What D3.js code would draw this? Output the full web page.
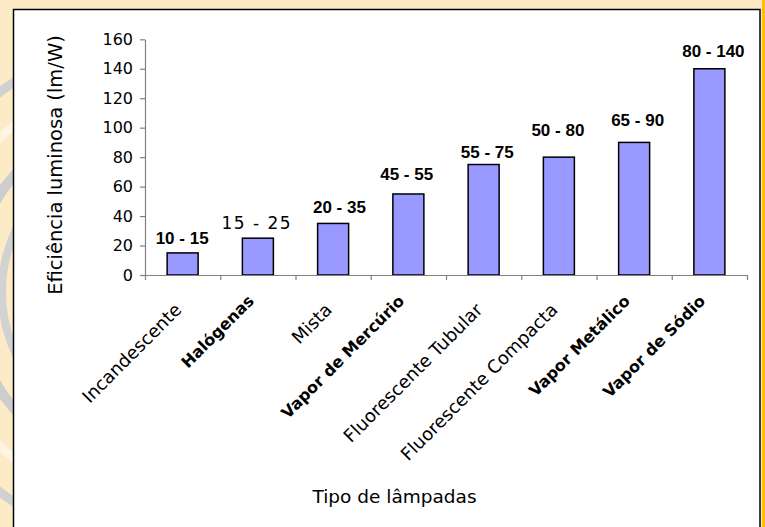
<!DOCTYPE html>
<html>
<head>
<meta charset="utf-8">
<script src="https://cdn.jsdelivr.net/npm/d3@7/dist/d3.min.js"></script>
<style>
  html, body { margin: 0; padding: 0; background: #FDEBC8; }
  svg { display: block; }
</style>
</head>
<body>
<svg id="chart" width="765" height="527"></svg>
<script>
// ---- data ----
const categories = ["Incandescente", "Halógenas", "Mista", "Vapor de Mercúrio",
  "Fluorescente Tubular", "Fluorescente Compacta", "Vapor Metálico", "Vapor de Sódio"];
const values = [15, 25, 35, 55, 75, 80, 90, 140];
const rangeLabels = ["10 - 15", "15 - 25", "20 - 35", "45 - 55", "55 - 75", "50 - 80", "65 - 90", "80 - 140"];
const boldCategory = [false, true, false, true, false, false, true, true];
const yTicks = [0, 20, 40, 60, 80, 100, 120, 140, 160];
const yTitle = "Eficiência luminosa (lm/W)";
const xTitle = "Tipo de lâmpadas";

// ---- layout ----
const W = 765, H = 527;
const plot = { left: 145, right: 747, top: 39.3, bottom: 275 };
// small hand placement of the value labels (px): [dx, lift above bar]
const labelNudge = [[-0.5, 9], [-1.8, 8.7], [6.3, 10.7], [-1.7, 14], [3.7, 6.4], [-1, 20.7], [3.5, 16.7], [4, 11.7]];

const svg = d3.select("#chart");

// background
svg.append("rect").attr("width", W).attr("height", H).attr("fill", "#FDEBC8");
const deco = svg.append("g").attr("fill", "none");
[[179, "#CDCDCD", 10], [148, "#D2D2D2", 8], [250, "#D0D0D0", 9], [215, "#FFF6E2", 8]].forEach(([r, c, w]) => {
  deco.append("circle").attr("cx", 150).attr("cy", 292).attr("r", r)
    .attr("stroke", c).attr("stroke-width", w);
});
svg.append("rect").attr("x", 762).attr("y", 0).attr("width", 3).attr("height", H).attr("fill", "#FFC000");

// chart box
svg.append("rect").attr("x", 13.5).attr("y", 9.5).attr("width", 746.5).attr("height", 540)
  .attr("fill", "#FFFFFF").attr("stroke", "#000").attr("stroke-width", 1.5);

// scales
const x = d3.scaleBand().domain(categories).range([plot.left, plot.right])
  .paddingInner(0.588).paddingOuter(0.294);
const xEdges = d3.scaleLinear().domain([0, categories.length]).range([plot.left, plot.right]);
const y = d3.scaleLinear().domain([0, 160]).range([plot.bottom, plot.top]);

// bars
svg.append("g").selectAll("rect").data(values).join("rect")
  .attr("x", (d, i) => x(categories[i]))
  .attr("y", d => y(d))
  .attr("width", x.bandwidth())
  .attr("height", d => y(0) - y(d))
  .attr("fill", "#9999FF")
  .attr("stroke", "#000")
  .attr("stroke-width", 1.5);

// y axis
const yAxis = svg.append("g").attr("transform", `translate(${plot.left},0)`)
  .call(d3.axisLeft(y).tickValues(yTicks).tickSize(5).tickSizeOuter(0).tickPadding(7));
yAxis.select(".domain").attr("stroke", "#808080").attr("stroke-width", 1.2);
yAxis.selectAll(".tick line").attr("stroke", "#808080").attr("stroke-width", 1.2);
yAxis.selectAll(".tick text").attr("font-family", "'DejaVu Sans'").attr("font-size", 16).attr("fill", "#000");

// x axis (ticks between categories)
const xAxis = svg.append("g").attr("transform", `translate(0,${plot.bottom})`)
  .call(d3.axisBottom(xEdges).tickValues(d3.range(0, categories.length + 1)).tickSize(5).tickSizeOuter(0).tickFormat(""));
xAxis.select(".domain").attr("stroke", "#808080").attr("stroke-width", 1.2);
xAxis.selectAll(".tick line").attr("stroke", "#808080").attr("stroke-width", 1.2);

// category labels
svg.append("g").selectAll("text").data(categories).join("text")
  .attr("transform", (d, i) => {
    const cx = x(d) + x.bandwidth() / 2 + (boldCategory[i] ? -3 : 0);
    const ey = boldCategory[i] ? 302 : 311;
    return `translate(${cx},${ey}) rotate(-45)`;
  })
  .attr("text-anchor", "end")
  .attr("font-family", "'DejaVu Sans'")
  .attr("font-size", (d, i) => boldCategory[i] ? 16 : 18)
  .attr("font-weight", (d, i) => boldCategory[i] ? "bold" : "normal")
  .attr("fill", "#000")
  .text(d => d);

// value labels
svg.append("g").selectAll("text").data(rangeLabels).join("text")
  .attr("x", (d, i) => x(categories[i]) + x.bandwidth() / 2 + labelNudge[i][0])
  .attr("y", (d, i) => y(values[i]) - labelNudge[i][1])
  .attr("text-anchor", "middle")
  .attr("font-family", (d, i) => i === 1 ? "'DejaVu Sans'" : "'Liberation Sans', Arial")
  .attr("font-weight", (d, i) => i === 1 ? "normal" : "bold")
  .attr("font-size", 17)
  .attr("fill", "#000")
  .each(function (d, i) {
    if (i === 1) d3.select(this).attr("textLength", 69).attr("lengthAdjust", "spacing");
  })
  .text(d => d);

// axis titles
svg.append("text")
  .attr("transform", `translate(62,165) rotate(-90)`)
  .attr("text-anchor", "middle")
  .attr("font-family", "'DejaVu Sans'")
  .attr("font-size", 19.5)
  .attr("fill", "#000")
  .text(yTitle);

svg.append("text")
  .attr("x", 394.5).attr("y", 502.5)
  .attr("text-anchor", "middle")
  .attr("font-family", "'DejaVu Sans'")
  .attr("font-size", 18.5)
  .attr("fill", "#000")
  .text(xTitle);
</script>
</body>
</html>
